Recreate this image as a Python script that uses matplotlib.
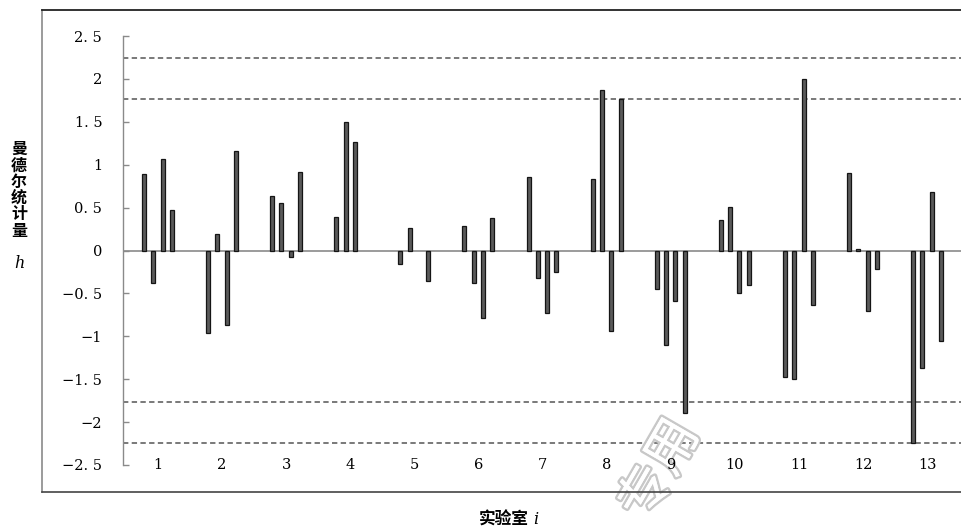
import numpy as np
import matplotlib
matplotlib.use("Agg")
import matplotlib.pyplot as plt
from matplotlib.lines import Line2D
import matplotlib.patheffects as pe

# Mandel's h statistic, 13 labs x 4 levels (nan = no result)
labs = list(range(1, 14))
h_values = [
    [0.89, -0.38, 1.07, 0.47],
    [-0.96, 0.19, -0.87, 1.16],
    [0.63, 0.55, -0.07, 0.91],
    [0.39, 1.50, 1.27, np.nan],
    [-0.16, 0.26, np.nan, -0.36],
    [0.29, -0.38, -0.79, 0.38],
    [0.86, -0.32, -0.73, -0.25],
    [0.83, 1.87, -0.94, 1.76],
    [-0.45, -1.10, -0.59, -1.89],
    [0.36, 0.51, -0.49, -0.40],
    [-1.48, -1.50, 2.00, -0.63],
    [0.90, 0.02, -0.71, -0.22],
    [-2.24, -1.37, 0.68, -1.06],
]
h_crit_5 = 1.77
h_crit_1 = 2.24
y_ticks = [2.5, 2, 1.5, 1, 0.5, 0, -0.5, -1, -1.5, -2, -2.5]
y_tick_labels = ["2. 5", "2", "1. 5", "1", "0. 5", "0", "−0. 5", "−1",
                 "−1. 5", "−2", "−2. 5"]

W, H = 962, 530
fig = plt.figure(figsize=(W / 100, H / 100), dpi=100)

# axes placed in pixel terms
ax = fig.add_axes([123 / W, 1 - 465 / H, 839 / W, 429 / H])
ax.set_xlim(0.455, 13.545)
ax.set_ylim(-2.5, 2.5)

vals = np.array(h_values, dtype=float)
offsets = (np.arange(4) - 1.5) * 0.145
for j in range(4):
    ok = ~np.isnan(vals[:, j])
    ax.bar(np.array(labs)[ok] + offsets[j], vals[ok, j], width=0.062,
           color="#5a5a5a", edgecolor="#151515", linewidth=0.9, zorder=3)

ax.axhline(0, color="#8a8a8a", lw=1.2, zorder=2)
for yv in (h_crit_1, h_crit_5, -h_crit_5, -h_crit_1):
    ax.axhline(yv, color="#555555", lw=1.1, ls=(0, (3.5, 2.2)), zorder=1)

for s in ("top", "right", "bottom"):
    ax.spines[s].set_visible(False)
ax.spines["left"].set_color("#8a8a8a")
ax.spines["left"].set_linewidth(1.0)

ax.set_yticks(y_ticks)
ax.set_yticklabels(y_tick_labels, family="DejaVu Serif", fontsize=10.5)
ax.tick_params(axis="y", direction="in", length=4.5, width=1.0,
               color="#8a8a8a", pad=15)
ax.set_xticks([])

for k in labs:
    ax.text(k, -2.5, str(k), ha="center", va="center",
            family="DejaVu Serif", fontsize=10.5, zorder=6)

# chart area border
fig.add_artist(Line2D([42 / W, 42 / W], [1 - 10 / H, 1 - 492 / H],
                      color="#8a8a8a", lw=1.2))
fig.add_artist(Line2D([42 / W, 1], [1 - 10 / H, 1 - 10 / H],
                      color="#222222", lw=1.3))
fig.add_artist(Line2D([42 / W, 1], [1 - 492 / H, 1 - 492 / H],
                      color="#444444", lw=1.2))

# axis titles
fig.text(19 / W, 1 - 190 / H, "\n".join("曼德尔统计量"), ha="center",
         va="center", family="Noto Sans CJK SC", fontweight="bold",
         fontsize=11.5, linespacing=1.02)
fig.text(19 / W, 1 - 264 / H, "h", ha="center", va="center",
         family="DejaVu Serif", style="italic", fontsize=11.5)
fig.text(504 / W, 1 - 520 / H, "实验室", ha="center", va="center",
         family="Noto Sans CJK SC", fontweight="bold", fontsize=12)
fig.text(536 / W, 1 - 520 / H, "i", ha="center", va="center",
         family="DejaVu Serif", style="italic", fontsize=11.5)

# faint stamp, kept under the lab numbers
ax.text(660 / W, 1 - 470 / H, "专用", ha="center", va="center",
        transform=fig.transFigure, clip_on=False,
        family="Noto Sans CJK SC", fontsize=38, rotation=60,
        color="white", zorder=2.5,
        path_effects=[pe.withStroke(linewidth=3.5, foreground="#c8c8c8"),
                      pe.Normal()])

fig.savefig("out.png", dpi=100)
